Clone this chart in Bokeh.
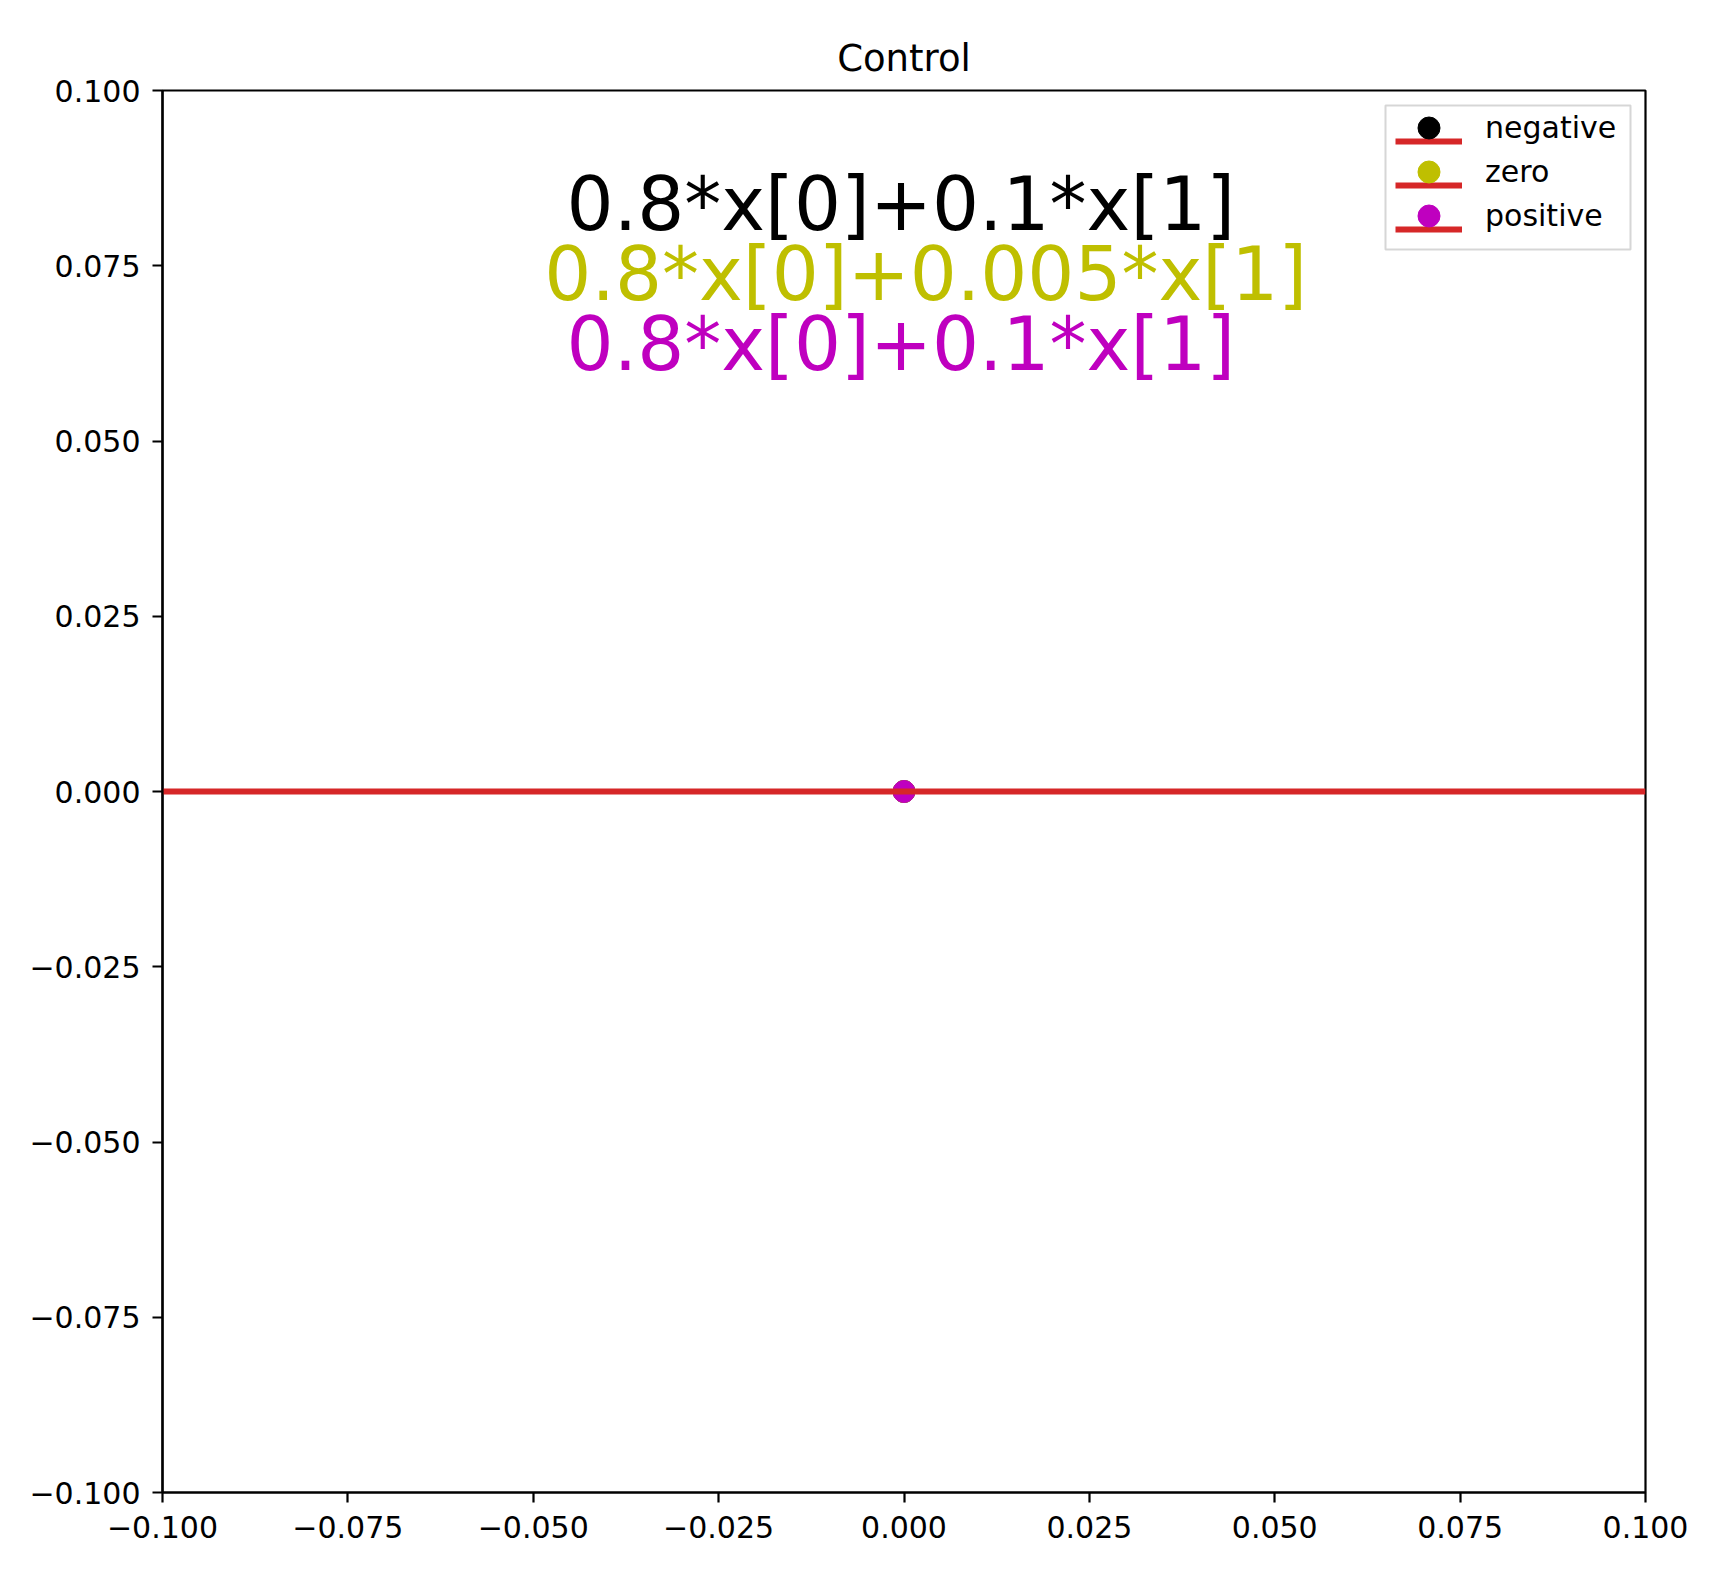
from bokeh.plotting import figure
from bokeh.models import (ColumnDataSource, FixedTicker, CustomJSTickFormatter,
                          Legend, LegendItem, Range1d, BoxAnnotation)
from bokeh.core.properties import value
from bokeh.embed import file_html
from bokeh.resources import INLINE

# ---- data ----
title_text = "Control"
series_labels = ["negative", "zero", "positive"]
series_colors = ["#000000", "#bfbf00", "#bf00bf"]
point_x = [0.0, 0.0, 0.0]
point_y = [0.0, 0.0, 0.0]
line_x = [-0.1, 0.1]
line_y = [0.0, 0.0]
line_color = "#d62728"
equations = ["0.8*x[0]+0.1*x[1]", "0.8*x[0]+0.005*x[1]", "0.8*x[0]+0.1*x[1]"]
eq_x = [-0.0455, -0.0485, -0.0455]
eq_y = [0.0838, 0.0738, 0.0638]
tick_values = [-0.1, -0.075, -0.05, -0.025, 0.0, 0.025, 0.05, 0.075, 0.1]

FONT = "DejaVu Sans"
FRAME_BOTTOM = 1492  # canvas px of the plot frame's bottom edge

p = figure(width=1704, height=1580, output_backend="svg", toolbar_location=None,
           x_range=Range1d(-0.1, 0.1), y_range=Range1d(-0.1, 0.1),
           min_border_left=162, min_border_right=59,
           min_border_top=90, min_border_bottom=88)
p.background_fill_color = "white"
p.border_fill_color = "white"
p.xgrid.visible = False
p.ygrid.visible = False
p.outline_line_color = "black"
p.outline_line_width = 2.2
p.outline_line_alpha = 1.0

p.title.text = title_text
p.title.align = "center"
p.title.text_font = FONT
p.title.text_font_size = "37px"
p.title.text_font_style = "normal"
p.title.text_color = "black"
p.title.standoff = 21

fmt = CustomJSTickFormatter(code="""
if (Math.abs(tick) < 1e-9) { return "0.000"; }
return (tick < 0 ? "\u2212" : "") + Math.abs(tick).toFixed(3);
""")
for ax in (p.xaxis[0], p.yaxis[0]):
    ax.ticker = FixedTicker(ticks=tick_values)
    ax.formatter = fmt
    ax.major_tick_out = 10
    ax.major_tick_in = 0
    ax.major_tick_line_width = 2.2
    ax.minor_tick_line_color = None
    ax.axis_line_width = 2.2
    ax.axis_line_color = "black"
    ax.major_tick_line_color = "black"
    ax.major_label_text_font = FONT
    ax.major_label_text_font_size = "30px"
    ax.major_label_text_color = "black"
p.xaxis[0].major_label_standoff = 13
p.yaxis[0].major_label_standoff = 12

# points
pt_renderers = []
for i in range(len(series_labels)):
    r = p.scatter(x=[point_x[i]], y=[point_y[i]], size=22,
                  fill_color=series_colors[i], line_color=series_colors[i])
    pt_renderers.append(r)

# red zero line
line_r = p.line(x=line_x, y=line_y, line_color=line_color, line_width=6)

# equation texts
src = ColumnDataSource(dict(x=eq_x, y=eq_y, text=equations, color=series_colors))
p.text(x="x", y="y", text="text", source=src, text_color="color",
       text_font=value(FONT), text_font_size="74px",
       text_align="left", text_baseline="alphabetic")

# legend frame
frame = BoxAnnotation(left=1385, right=1630, top=105, bottom=249,
                      left_units="canvas", right_units="canvas",
                      top_units="canvas", bottom_units="canvas",
                      fill_color="white", fill_alpha=0.8,
                      line_color="#cccccc", line_alpha=0.8, line_width=2)
p.add_layout(frame)

# legend: red line handles (below the markers)
legL = Legend(items=[LegendItem(label=" ", renderers=[line_r])
                     for _ in range(len(series_labels))],
              location=(1233, 1245), orientation="vertical",
              padding=0, spacing=8, glyph_width=67, glyph_height=36,
              label_standoff=23, margin=0,
              label_text_font=FONT, label_text_font_size="30px",
              border_line_alpha=0.0, background_fill_alpha=0.0)
p.add_layout(legL)

# legend: one marker + label row at a time (rows 44 px apart)
ROW0_CENTER = 127
ROW_PITCH = 44
GLYPH_H = 55
for i in range(len(series_labels)):
    bottom = ROW0_CENTER + ROW_PITCH * i + GLYPH_H / 2
    leg = Legend(items=[LegendItem(label=series_labels[i], renderers=[pt_renderers[i]])],
                 location=(1233, FRAME_BOTTOM - bottom), orientation="vertical",
                 padding=0, spacing=0, glyph_width=67, glyph_height=GLYPH_H,
                 label_standoff=23, margin=0,
                 label_text_font=FONT, label_text_font_size="30px",
                 label_text_color="black",
                 border_line_alpha=0.0, background_fill_alpha=0.0)
    p.add_layout(leg)

open("out.html", "w").write(file_html(p, INLINE))
